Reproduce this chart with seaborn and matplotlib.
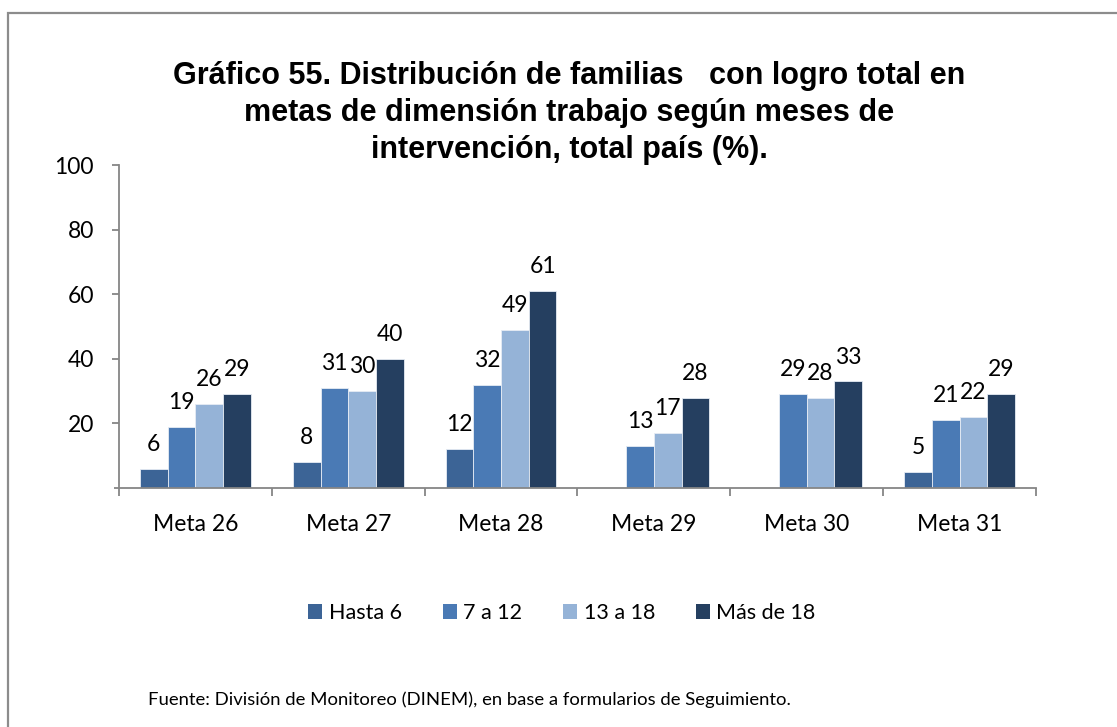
import matplotlib
matplotlib.use("Agg")
import matplotlib.pyplot as plt
import seaborn as sns
import pandas as pd
import numpy as np
from matplotlib.patches import Rectangle, Patch

# Values (%) per goal and months of intervention
metas = ["Meta 26", "Meta 27", "Meta 28", "Meta 29", "Meta 30", "Meta 31"]
tramos = ["Hasta 6", "7 a 12", "13 a 18", "Más de 18"]
hasta_6 = [6, 8, 12, np.nan, np.nan, 5]
de_7_a_12 = [19, 31, 32, 13, 29, 21]
de_13_a_18 = [26, 30, 49, 17, 28, 22]
mas_de_18 = [29, 40, 61, 28, 33, 29]
y_ticks = [20, 40, 60, 80, 100]

colores = ["#3C6496", "#4A7AB5", "#95B3D7", "#253F60"]

titulo = ("Gráfico 55. Distribución de familias   con logro total en\n"
          "metas de dimensión trabajo según meses de\n"
          "intervención, total país (%).")
fuente = "Fuente: División de Monitoreo (DINEM), en base a formularios de Seguimiento."

rows = []
for tramo, serie in zip(tramos, [hasta_6, de_7_a_12, de_13_a_18, mas_de_18]):
    for meta, v in zip(metas, serie):
        rows.append({"meta": meta, "tramo": tramo, "valor": v})
df = pd.DataFrame(rows)

sns.set_theme(style="white")
plt.rcParams["font.family"] = ["Lato", "DejaVu Sans"]
plt.rcParams["text.color"] = "black"

W, H = 1117, 727
fig = plt.figure(figsize=(W / 100, H / 100), dpi=100)
ax = fig.add_axes([119 / W, 1 - 488 / H, (1036 - 119) / W, (488 - 165) / H])

sns.barplot(data=df, x="meta", y="valor", hue="tramo", hue_order=tramos,
            order=metas, palette=colores, saturation=1, width=0.725,
            errorbar=None, edgecolor="#e6ecf4", linewidth=0.6, ax=ax)
if ax.get_legend() is not None:
    ax.get_legend().remove()

for cont in ax.containers:
    ax.bar_label(cont, fmt="%.0f", padding=10, fontsize=16.5, color="black")

ax.set_xlim(-0.5, len(metas) - 0.5)
ax.set_ylim(0, 100)
ax.set_yticks(y_ticks)
ax.set_ylabel("")
ax.set_xlabel("")

grey = "#868686"
for s in ["top", "right"]:
    ax.spines[s].set_visible(False)
for s in ["left", "bottom"]:
    ax.spines[s].set_color(grey)
    ax.spines[s].set_linewidth(1.3)

ax.tick_params(axis="y", which="major", left=True, length=5, width=1.3,
               color=grey, pad=13, labelsize=16.5, labelcolor="black")
ax.set_xticks(np.arange(-0.5, len(metas), 1.0), minor=True)
ax.tick_params(axis="x", which="major", bottom=False, length=0, pad=19,
               labelsize=16.5, labelcolor="black")
ax.tick_params(axis="x", which="minor", bottom=True, length=6, width=1.3,
               color=grey)
# tick mark at 0 on the value axis, left without a label
ax.plot([-0.5 - 0.035, -0.5], [0, 0], color=grey, lw=1.3, clip_on=False,
        solid_capstyle="butt")

fig.text(569 / W, 1 - 113 / H, titulo, ha="center", va="center",
         fontsize=22, fontweight="bold", family="Liberation Sans",
         linespacing=1.32, color="black")

handles = [Patch(facecolor=c, edgecolor="none") for c in colores]
fig.legend(handles, tramos, loc="center", bbox_to_anchor=(562 / W, 1 - 613 / H),
           ncol=4, frameon=False, fontsize=15.5, handlelength=0.65,
           handleheight=0.65, handletextpad=0.3, columnspacing=1.9)

fig.text(148 / W, 1 - 700 / H, fuente, ha="left", va="center", fontsize=13.3,
         color="black")

fig.patches.append(Rectangle((8 / W, -0.1), 1.2, 1 - 12.5 / H + 0.1,
                             transform=fig.transFigure, fill=False,
                             edgecolor="#8C8C8C", linewidth=1.6))

fig.savefig("out.png", dpi=100)
